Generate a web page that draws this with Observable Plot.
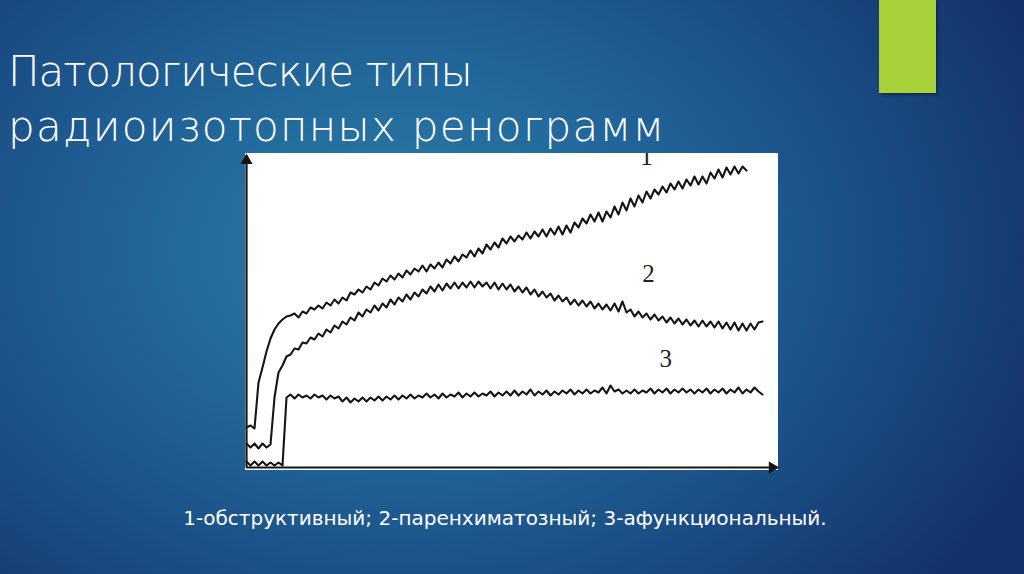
<!DOCTYPE html>
<html>
<head>
<meta charset="utf-8">
<script src="https://cdn.jsdelivr.net/npm/d3@7"></script>
<script src="https://cdn.jsdelivr.net/npm/@observablehq/plot@0.6"></script>
<style>
  html, body { margin: 0; padding: 0; }
  body {
    width: 1024px; height: 574px; overflow: hidden; position: relative;
    background: radial-gradient(ellipse 700px 520px at 400px 250px, #2c7fa9 0%, #22679a 35%, #1a4b83 70%, #13316a 100%);
    font-family: "DejaVu Sans", sans-serif;
  }
  #title {
    position: absolute; left: 8px; top: 44px; color: #ffffff;
    font-size: 42px; font-weight: 200; line-height: 55px; white-space: nowrap;
  }
  #t1 { letter-spacing: -1px; }
  #t2 { letter-spacing: 1.3px; }
  #accent {
    position: absolute; left: 879px; top: 0; width: 57px; height: 93px;
    background: #a8d23a; box-shadow: 2px 2px 3px rgba(0,0,0,0.35);
  }
  #chart { position: absolute; left: 245px; top: 153px; }
  #caption {
    position: absolute; left: 0; width: 1010px; top: 506px; text-align: center;
    color: #ffffff; font-size: 20px; font-weight: 400; white-space: nowrap;
  }
</style>
</head>
<body>
<div id="accent"></div>
<div id="title"><span id="t1">Патологические типы</span><br><span id="t2">радиоизотопных ренограмм</span></div>
<div id="chart"></div>
<div id="caption">1-обструктивный; 2-паренхиматозный; 3-афункциональный.</div>
<script>
// Renogram curves: counts (arbitrary units) sampled at equal time steps (index = sample number)
const curve1 = [40,42,39,85,100,116,129,138,144,148,151,152,154,150,
  156,154,160,158,162,159,165,162,168,164,170,167,175,173,178,175,181,178,185,182,
  189,186,192,188,194,190,197,193,199,196,202,196,203,199,205,200,208,204,211,206,
  213,210,217,211,219,214,223,218,225,220,229,224,231,226,232,228,235,229,236,231,
  238,231,239,233,241,233,242,235,245,240,249,244,253,246,255,246,256,250,261,253,
  265,257,269,261,272,265,276,269,278,273,281,275,284,278,286,279,288,282,291,283,
  291,284,295,289,298,290,300,293,301,294,301,297];
const curve2 = [24,20,24,19,24,20,23,70,95,102,111,113,119,118,125,124,130,128,134,131,
  138,135,142,139,146,143,150,147,155,151,158,155,162,157,164,160,168,163,170,166,
  173,168,175,171,178,174,181,176,183,177,184,179,185,179,185,180,186,180,186,181,
  185,179,185,178,184,178,183,176,181,175,180,173,178,171,176,170,174,167,172,166,
  170,163,168,162,167,161,166,159,164,158,163,157,164,156,166,155,158,151,156,150,
  154,148,153,147,151,145,150,144,149,143,148,142,147,141,147,141,146,140,146,139,
  145,138,145,137,144,137,144,138,145,146];
const curve3 = [6,2,6,2,6,2,5,2,5,2,70,73,69,73,70,72,69,73,70,72,
  68,72,69,71,66,70,65,69,66,70,66,70,67,71,67,71,68,72,68,72,
  69,73,69,72,70,74,70,73,69,74,70,73,71,75,70,74,71,75,71,74,
  72,76,71,75,72,76,72,77,72,76,73,78,72,76,73,77,72,76,73,77,
  74,78,73,77,74,78,74,77,75,80,74,82,76,78,74,77,74,78,74,77,
  75,79,74,78,75,79,74,78,75,79,75,78,74,78,75,79,74,78,75,79,
  74,78,75,80,74,78,75,80,76,73];

// Curve number labels
const labelText = ["1", "2", "3"];
const labelX = [100, 100.5, 104.8];
const labelY = [311, 194, 109];
const labels = labelText.map((t, i) => ({t, x: labelX[i], y: labelY[i]}));

// Axis extents (sample index, counts)
const xMax = 132.25;
const yMax = 310;
const yTop = 314;

const ink = "#151515";
const plot = Plot.plot({
  width: 533, height: 317,
  marginLeft: 1, marginRight: 3, marginTop: 0, marginBottom: 3,
  x: {domain: [0, xMax], axis: null},
  y: {domain: [0, yTop], axis: null},
  style: {background: "white", overflow: "visible"},
  marks: [
    Plot.ruleX([0], {y1: 0, y2: yMax, stroke: ink, strokeWidth: 2.2}),
    Plot.ruleY([0], {stroke: ink, strokeWidth: 2.2}),
    Plot.lineY(curve1, {stroke: ink, strokeWidth: 2.1}),
    Plot.lineY(curve2, {stroke: ink, strokeWidth: 2.1}),
    Plot.lineY(curve3, {stroke: ink, strokeWidth: 2.1}),
    Plot.text(labels, {x: "x", y: "y", text: "t", fill: "#222", fontSize: 25,
      fontFamily: "Liberation Serif", clip: true}),
    Plot.dot([{x: 0, y: yMax - 3}], {x: "x", y: "y", symbol: "triangle", r: 4.5, fill: ink, stroke: null}),
    Plot.dot([{x: xMax - 0.8, y: 0}], {x: "x", y: "y", symbol: "triangle", r: 4.5, rotate: 90, fill: ink, stroke: null})
  ]
});
document.getElementById("chart").appendChild(plot);
</script>
</body>
</html>
